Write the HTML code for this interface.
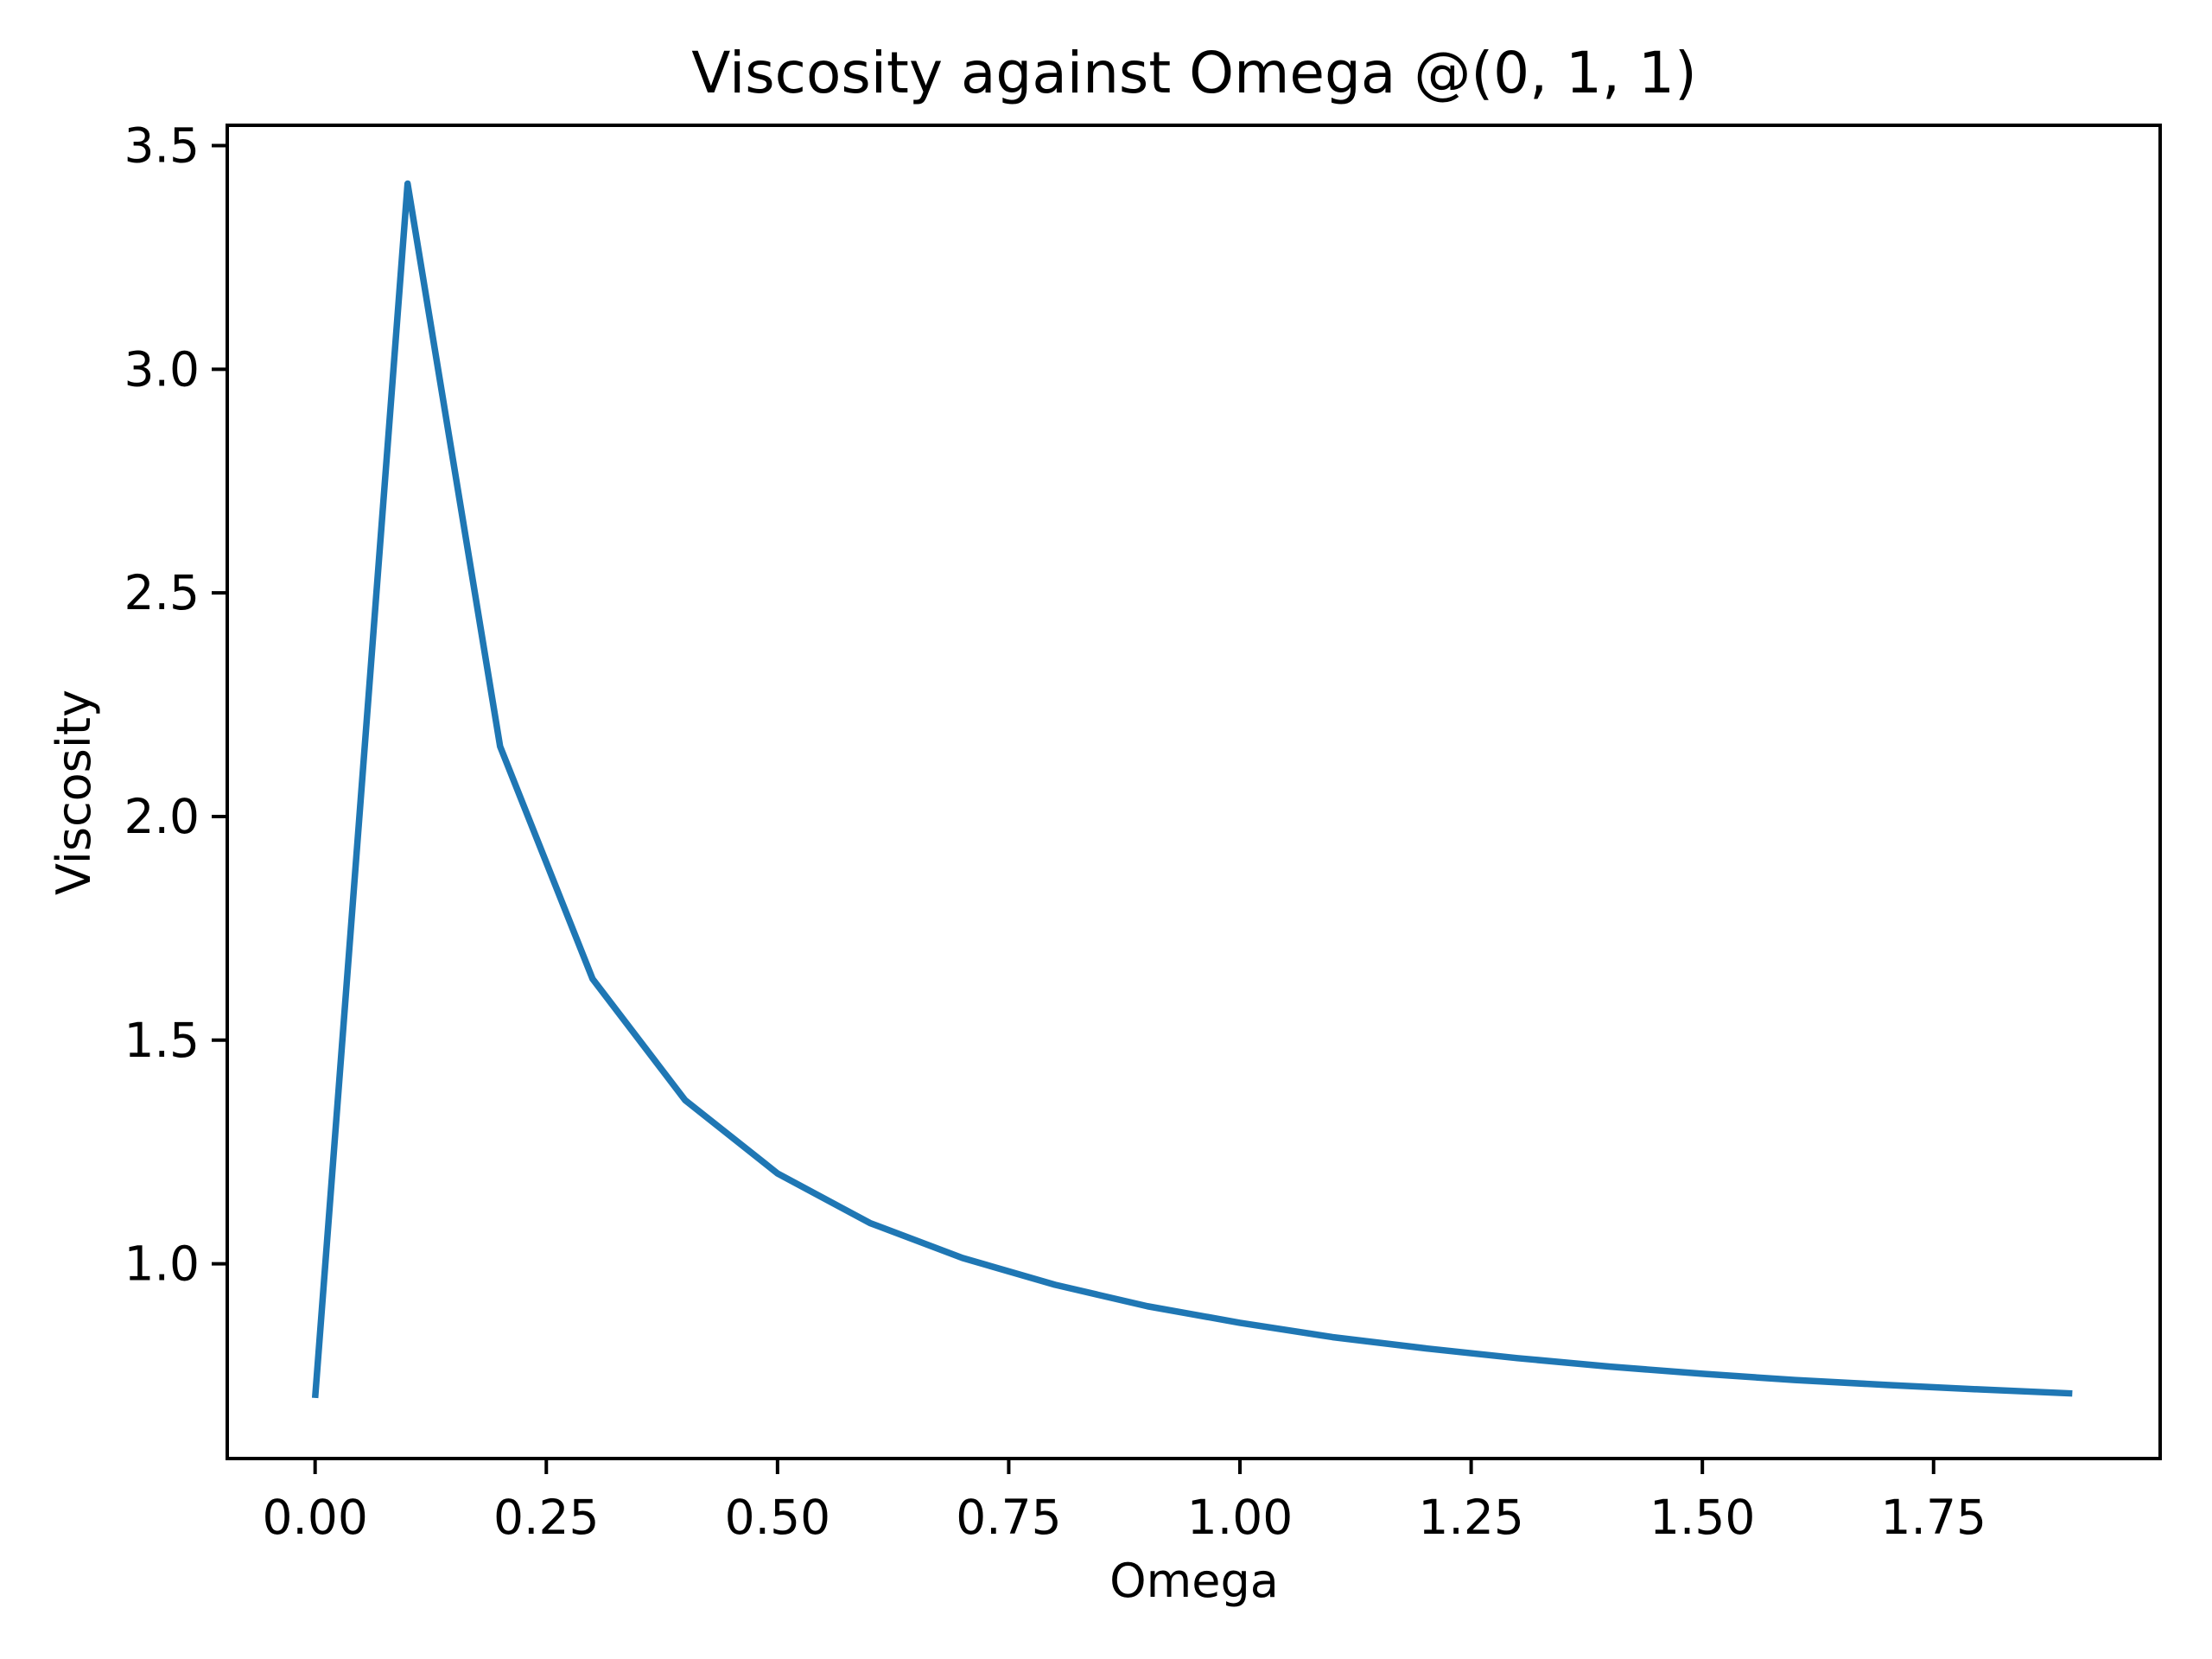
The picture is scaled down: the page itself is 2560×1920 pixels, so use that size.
<!DOCTYPE html>
<html><head><meta charset="utf-8"><style>body{margin:0;background:#fff}svg{display:block}</style></head>
<body>
<svg id="chart" width="2560" height="1920" xmlns="http://www.w3.org/2000/svg" font-family="DejaVu Sans, Liberation Sans, sans-serif">
<rect width="2560" height="1920" fill="#fff"/>
<text x="1382" y="107" font-size="66" text-anchor="middle">Viscosity against Omega @(0, 1, 1)</text>
<g id="plot"></g>
<rect x="263" y="145" width="2237" height="1543" fill="none" stroke="#000" stroke-width="4"/>
<text x="1382" y="1848" font-size="54" text-anchor="middle">Omega</text>
<text x="0" y="0" font-size="54" text-anchor="middle" transform="translate(104,917) rotate(-90)">Viscosity</text>
</svg>
<script>
const omega = [0,0.1,0.2,0.3,0.4,0.5,0.6,0.7,0.8,0.9,1.0,1.1,1.2,1.3,1.4,1.5,1.6,1.7,1.8,1.9];
const viscosity = [0.70,3.415,2.157,1.637,1.366,1.202,1.091,1.013,0.953,0.905,0.868,0.836,0.811,0.789,0.770,0.754,0.740,0.729,0.719,0.710];
const xTicks = [0,0.25,0.5,0.75,1.0,1.25,1.5,1.75];
const xTickLabels = ["0.00","0.25","0.50","0.75","1.00","1.25","1.50","1.75"];
const yTicks = [1.0,1.5,2.0,2.5,3.0,3.5];
const yTickLabels = ["1.0","1.5","2.0","2.5","3.0","3.5"];

const L=263,R=2500,T=145,B=1688;
const xmin=-0.095,xmax=1.995,ymin=0.5645,ymax=3.5455;
const sx=v=>L+(v-xmin)/(xmax-xmin)*(R-L);
const sy=v=>B-(v-ymin)/(ymax-ymin)*(B-T);
const NS="http://www.w3.org/2000/svg";
const g=document.getElementById('plot');
function mk(t,a){const e=document.createElementNS(NS,t);for(const k in a)e.setAttribute(k,a[k]);g.appendChild(e);return e;}
xTicks.forEach((v,i)=>{
  const t=mk('line',{x1:sx(v),x2:sx(v),y1:B,y2:B+18,stroke:'#000','stroke-width':4});
  
  
  const l=mk('text',{x:sx(v),y:1775,'font-size':55,'text-anchor':'middle'});
  l.textContent=xTickLabels[i];
  
  
});
yTicks.forEach((v,i)=>{
  const t=mk('line',{x1:L-18,x2:L,y1:sy(v),y2:sy(v),stroke:'#000','stroke-width':4});
  
  
  const l=mk('text',{x:L-32,y:sy(v)+19,'font-size':55,'text-anchor':'end'});
  l.textContent=yTickLabels[i];
  
  
});
const pts=omega.map((x,i)=>sx(x)+','+sy(viscosity[i])).join(' ');
const line=mk('polyline',{points:pts,fill:'none',stroke:'#1f77b4','stroke-width':7.5,'stroke-linejoin':'round','stroke-linecap':'butt'});


</script>
</body></html>
